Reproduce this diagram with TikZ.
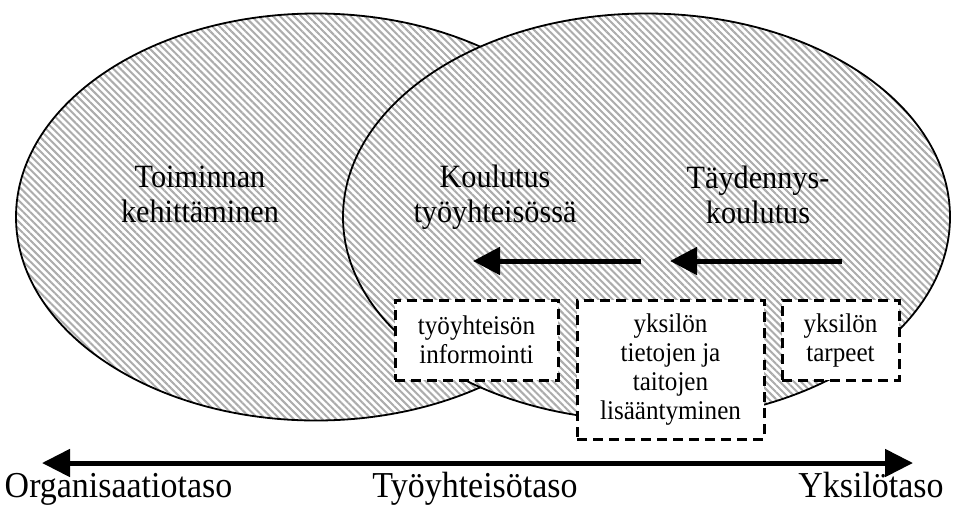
\documentclass[tikz,border=0pt]{standalone}
\usepackage{fontspec}
\setmainfont[FakeStretch=0.93]{Liberation Serif}
\usetikzlibrary{arrows.meta,patterns.meta,positioning}

\tikzset{
  hatched/.style={draw=black,line width=1.8pt,preaction={fill=white},
    pattern={Lines[angle=-45,distance=5pt,line width=2pt]},pattern color=gray!65},
  levelbox/.style={draw,dash pattern=on 10pt off 6pt,line width=3pt,fill=white,
    align=center,inner sep=0pt,font=\fontsize{27}{29}\selectfont},
  biglabel/.style={align=center,font=\fontsize{32.5}{35}\selectfont},
  axislabel/.style={anchor=base,font=\fontsize{36.5}{40}\selectfont},
  flow/.style={line width=5pt,-{Triangle[length=27pt,width=27pt]}}
}

\begin{document}
\begin{tikzpicture}[x=1pt,y=-1pt]

  \useasboundingbox (0,0) rectangle (953,507);

  % the two areas
  \draw[hatched] (316,217) ellipse [x radius=300pt,y radius=203.5pt];
  \draw[hatched] (646.5,217) ellipse [x radius=303.5pt,y radius=203.5pt];

  % labels inside the areas
  \node[biglabel] (toiminta) at (200,194.5) {Toiminnan\\kehittäminen};
  \node[biglabel] (koulutus) at (495,197) {Koulutus\\työyhteisössä};
  \node[biglabel] (taydennys) at (758,194.5) {Täydennys-\\koulutus};

  % flow to the left
  \coordinate (a1) at (842,261);
  \coordinate (a2) at (670,261);
  \coordinate (a3) at (641,261);
  \coordinate (a4) at (473,261);
  \draw[flow] (a1) -- (a2);
  \draw[flow] (a3) -- (a4);

  % dashed boxes
  \node[levelbox,minimum width=163pt,minimum height=80pt] (info) at (476.5,340)
    {työyhteisön\\informointi};
  \node[levelbox,minimum width=187pt,minimum height=139pt] (tiedot) at (670.5,369.5)
    {yksilön\\tietojen ja\\taitojen\\lisääntyminen};
  \node[levelbox,minimum width=117pt,minimum height=80pt] (tarpeet) at (840.5,340)
    {yksilön\\tarpeet};

  % level axis
  \coordinate (left) at (42,463);
  \coordinate (right) at (913,463);
  \draw[line width=5pt,{Triangle[length=28pt,width=27pt]}-{Triangle[length=28pt,width=27pt]}]
    (left) -- (right);
  \node[axislabel] (org) at (118.5,497) {Organisaatiotaso};
  \node[axislabel] (tyo) at (475,497) {Työyhteisötaso};
  \node[axislabel] (yks) at (871,497) {Yksilötaso};

\end{tikzpicture}
\end{document}
